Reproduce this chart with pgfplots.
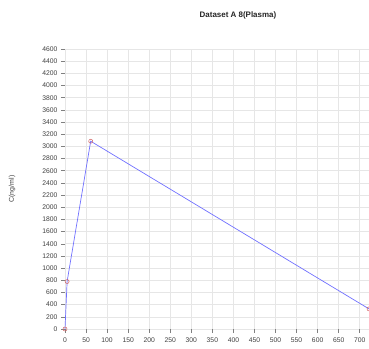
\documentclass[border=0pt]{standalone}
\usepackage{pgfplots}
\pgfplotsset{compat=1.18}
\usepackage{fontspec}
\setmainfont{Liberation Sans}
\definecolor{gridc}{HTML}{E6E6E6}
\definecolor{linec}{HTML}{7070FF}
\definecolor{markc}{HTML}{D06060}
\begin{document}
\begin{tikzpicture}[x=1bp,y=1bp]
\useasboundingbox (-65,-20) rectangle (304,329);
\begin{axis}[
  at={(0,0)}, anchor=south west,
  scale only axis, width=304bp, height=280bp,
  xmin=0, xmax=722, ymin=0, ymax=4600,
  xtick={0,50,...,700}, ytick={0,200,...,4600},
  grid=major, major grid style={gridc, line width=0.6pt},
  axis line style={draw=none},
  tick style={gray, line width=0.5pt},
  tick align=outside, major tick length=4bp,
  xtick pos=bottom, ytick pos=left,
  ticklabel style={font=\fontsize{6.8}{8}\selectfont, text=black!75},
  /pgf/number format/assume math mode=true,
  /pgf/number format/1000 sep={},
  xticklabel style={yshift=-1bp},
  clip=false,
]
\addplot[linec, line width=0.7pt, mark=o, mark size=2bp,
  mark options={markc, line width=0.5pt}] coordinates {
  (0,0) (5,780) (61,3085) (722,330)
};
\path (rel axis cs:0.569,1) ++(0,34bp) node[font=\bfseries\fontsize{8}{9}\selectfont, text=black!85] {Dataset A 8(Plasma)};
\path (rel axis cs:0,0.5) ++(-53bp,0) node[font=\fontsize{7}{8}\selectfont, rotate=90, text=black!75] {C(ng/ml)};
\end{axis}
\end{tikzpicture}
\end{document}
